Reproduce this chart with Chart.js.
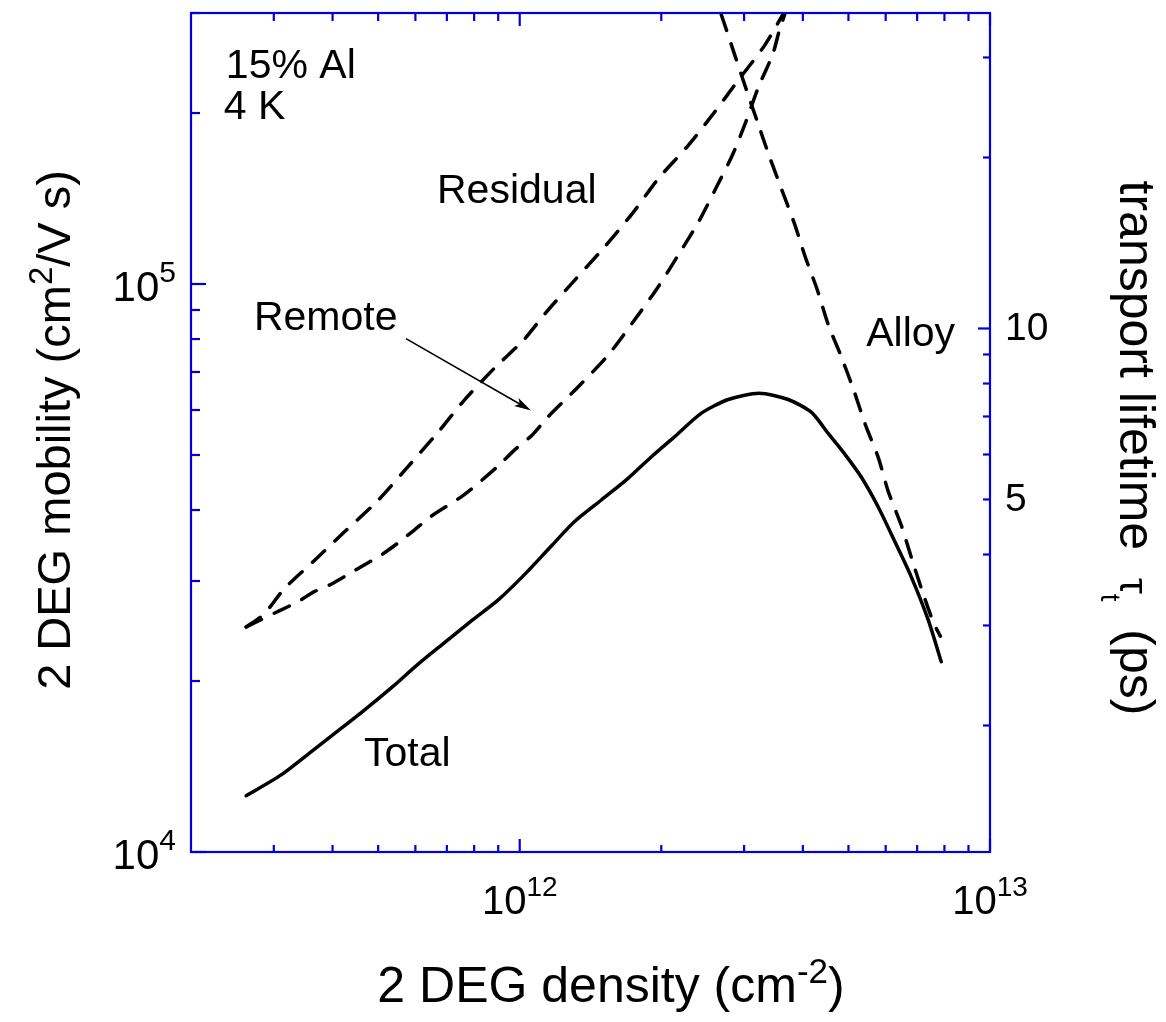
<!DOCTYPE html>
<html>
<head>
<meta charset="utf-8">
<script src="https://cdn.jsdelivr.net/npm/chart.js@4.4.0/dist/chart.umd.min.js"></script>
<style>
  html, body { margin: 0; padding: 0; background: #fff; }
</style>
</head>
<body>
<canvas id="mobilityChart" width="1166" height="1022"></canvas>
<script>
// 2DEG density in units of 1e12 cm^-2, mobility in cm^2/V s
const totalDensity = [0.262, 0.311, 0.360, 0.417, 0.466, 0.540, 0.608, 0.690, 0.788, 0.899, 1.021, 1.166, 1.305, 1.489, 1.700,
  1.903, 2.130, 2.431, 2.775, 3.229, 3.723, 4.168, 4.529, 4.898, 5.324, 5.785, 6.256, 6.801, 7.392, 7.877];
const totalMobility = [12560, 13670, 15010, 16500, 17740, 19630, 21420, 23330, 25500, 27760, 30720, 34540, 38110, 41620, 45490,
  49590, 53760, 59180, 62610, 64220, 62610, 59480, 54570, 50330, 45730, 40500, 35390, 30510, 25600, 21630];

const residualDensity = [0.262, 0.286, 0.315, 0.365, 0.423, 0.500, 0.567, 0.670, 0.761, 0.882, 1.021, 1.138, 1.305, 1.512,
  1.742, 1.969, 2.278, 2.591, 2.928, 3.310, 3.628];
const residualMobility = [24900, 26230, 29010, 32540, 36550, 41620, 46790, 54800, 62350, 71000, 79800, 89160, 101300, 116000,
  133600, 153100, 175100, 200300, 229500, 262300, 298200];

const remoteDensity = [0.262, 0.308, 0.337, 0.365, 0.397, 0.466, 0.507, 0.550, 0.596, 0.648, 0.761, 0.898, 0.973, 1.066,
  1.147, 1.329, 1.539, 1.740, 1.966, 2.183, 2.407, 2.616, 2.840, 3.030, 3.214, 3.453, 3.562, 3.668];
const remoteMobility = [24900, 26580, 27560, 28710, 29610, 31980, 33310, 34960, 36850, 38990, 42530, 47740, 50940, 54350,
  58290, 65800, 74820, 85610, 98630, 113100, 129200, 147700, 169400, 193600, 221600, 254000, 278800, 300000];

const alloyDensity = [2.682, 2.748, 2.871, 3.030, 3.198, 3.392, 3.615, 3.834, 4.046, 4.292, 4.529, 4.827, 5.144, 5.429,
  5.785, 6.075, 6.477, 6.801, 7.178, 7.576, 7.840];
const alloyMobility = [298200, 281000, 251900, 220400, 193600, 168100, 145900, 128100, 111700, 97720, 84820, 74520, 64670,
  56600, 49520, 43150, 37600, 33040, 28780, 25390, 23990];

// axis ranges and ticks
const densityRange = [2e11, 1e13];
const mobilityRange = [1e4, 3e5];
const mobilityPerPs = 8350; // mu = e*tau/m*, cm^2/V s per ps
const densityMajor = [1e12, 1e13];
const densityMinor = [3e11, 4e11, 5e11, 6e11, 7e11, 8e11, 9e11, 2e12, 3e12, 4e12, 5e12, 6e12, 7e12, 8e12, 9e12];
const mobilityMajor = [1e4, 1e5];
const mobilityMinor = [2e4, 3e4, 4e4, 5e4, 6e4, 7e4, 8e4, 9e4, 2e5, 3e5];
const lifetimeTicks = [2, 3, 4, 5, 6, 7, 8, 9, 10, 20, 30];
const lifetimeMajor = [10];
const lifetimeLabels = [5, 10];

// text notes placed in data coordinates
const notes = [
  { text: '15% Al', x: 0.2372e12, y: 230500 },
  { text: '4 K', x: 0.2349e12, y: 195200 },
  { text: 'Residual', x: 0.667e12, y: 139000 },
  { text: 'Remote', x: 0.2721e12, y: 83110 },
  { text: 'Alloy', x: 5.456e12, y: 77930 },
  { text: 'Total', x: 0.4664e12, y: 14180 }
];
const arrowFrom = { x: 0.573e12, y: 80140 };
const arrowTo = { x: 1.057e12, y: 59890 };

const axisBlue = '#0000dd';
const family = '"Liberation Sans", Arial, Helvetica, sans-serif';
const font = px => px + 'px ' + family;

const points = (d, m) => d.map((v, i) => ({ x: v * 1e12, y: m[i] }));

function drawRuns(ctx, runs, x, y, align) {
  let w = 0;
  runs.forEach(r => { ctx.font = r.font; r.w = ctx.measureText(r.text).width; w += r.w; });
  let cx = align === 'center' ? x - w / 2 : (align === 'right' ? x - w : x);
  ctx.textAlign = 'left';
  ctx.textBaseline = 'alphabetic';
  runs.forEach(r => { ctx.font = r.font; ctx.fillText(r.text, cx, y + (r.dy || 0)); cx += r.w; });
}

const frame = {
  id: 'frame',
  afterDatasetsDraw(chart) {
    const { ctx, chartArea: a } = chart;
    const { x, y, y2 } = chart.scales;
    ctx.save();
    ctx.strokeStyle = axisBlue;
    ctx.lineWidth = 2.2;
    ctx.strokeRect(a.left, a.top, a.right - a.left, a.bottom - a.top);

    const line = (x1, y1, x2, y2b) => { ctx.beginPath(); ctx.moveTo(x1, y1); ctx.lineTo(x2, y2b); ctx.stroke(); };
    densityMinor.forEach(v => {
      const px = x.getPixelForValue(v);
      line(px, a.bottom, px, a.bottom - 7);
      line(px, a.top, px, a.top + 8);
    });
    densityMajor.forEach(v => {
      const px = x.getPixelForValue(v);
      line(px, a.bottom, px, a.bottom - 13);
      line(px, a.top, px, a.top + 13);
    });
    mobilityMinor.forEach(v => { const py = y.getPixelForValue(v); line(a.left, py, a.left + 9, py); });
    mobilityMajor.forEach(v => { const py = y.getPixelForValue(v); line(a.left, py, a.left + 15, py); });
    lifetimeTicks.forEach(v => {
      const py = y2.getPixelForValue(v);
      const len = lifetimeMajor.includes(v) ? 12 : 7;
      line(a.right, py, a.right - len, py);
    });

    ctx.fillStyle = '#000';
    // tick labels
    densityMajor.forEach(v => {
      const px = x.getPixelForValue(v);
      drawRuns(ctx, [{ text: '10', font: font(40) }, { text: String(Math.round(Math.log10(v))), font: font(28), dy: -18 }], px, 914, 'center');
    });
    mobilityMajor.forEach(v => {
      const py = y.getPixelForValue(v);
      drawRuns(ctx, [{ text: '10', font: font(42) }, { text: String(Math.round(Math.log10(v))), font: font(30), dy: -19 }], a.left - 15, py + 17, 'right');
    });
    ctx.font = font(39);
    ctx.textAlign = 'left';
    ctx.textBaseline = 'middle';
    lifetimeLabels.forEach(v => ctx.fillText(String(v), a.right + 15, y2.getPixelForValue(v) + 1));

    // axis titles
    drawRuns(ctx, [
      { text: '2 DEG density (cm', font: font(50) },
      { text: '-2', font: font(35), dy: -19 },
      { text: ')', font: font(50) }
    ], 611, 1002, 'center');

    ctx.save();
    ctx.translate(70, 430);
    ctx.rotate(-Math.PI / 2);
    drawRuns(ctx, [
      { text: '2 DEG mobility (cm', font: font(47) },
      { text: '2', font: font(33), dy: -18 },
      { text: '/V s)', font: font(47) }
    ], 0, 0, 'center');
    ctx.restore();

    ctx.save();
    ctx.translate(1120, 448);
    ctx.rotate(Math.PI / 2);
    drawRuns(ctx, [
      { text: 'transport lifetime  ', font: font(50) },
      { text: '\u03c4', font: font(40) },
      { text: 't', font: font(28), dy: 19 },
      { text: '  (ps)', font: font(50) }
    ], 0, 0, 'center');
    ctx.restore();

    // curve notes
    ctx.font = font(41);
    ctx.textAlign = 'left';
    ctx.textBaseline = 'alphabetic';
    notes.forEach(n => ctx.fillText(n.text, x.getPixelForValue(n.x), y.getPixelForValue(n.y)));

    // arrow
    const x1 = x.getPixelForValue(arrowFrom.x), y1 = y.getPixelForValue(arrowFrom.y);
    const x2 = x.getPixelForValue(arrowTo.x), y2p = y.getPixelForValue(arrowTo.y);
    const ang = Math.atan2(y2p - y1, x2 - x1);
    ctx.strokeStyle = '#000';
    ctx.lineWidth = 1.6;
    line(x1, y1, x2 - 10 * Math.cos(ang), y2p - 10 * Math.sin(ang));
    ctx.beginPath();
    ctx.moveTo(x2, y2p);
    ctx.lineTo(x2 - 17 * Math.cos(ang) + 4.5 * Math.sin(ang), y2p - 17 * Math.sin(ang) - 4.5 * Math.cos(ang));
    ctx.lineTo(x2 - 13 * Math.cos(ang), y2p - 13 * Math.sin(ang));
    ctx.lineTo(x2 - 17 * Math.cos(ang) - 4.5 * Math.sin(ang), y2p - 17 * Math.sin(ang) + 4.5 * Math.cos(ang));
    ctx.closePath();
    ctx.fill();
    ctx.restore();
  }
};

const curveStyle = {
  borderColor: '#000',
  borderWidth: 3.5,
  pointRadius: 0,
  tension: 0.25,
  borderCapStyle: 'round',
  borderJoinStyle: 'round',
  fill: false
};
const dashed = [17, 14];

new Chart(document.getElementById('mobilityChart'), {
  type: 'line',
  data: {
    datasets: [
      { ...curveStyle, label: 'Total', data: points(totalDensity, totalMobility) },
      { ...curveStyle, label: 'Residual', data: points(residualDensity, residualMobility), borderDash: dashed },
      { ...curveStyle, label: 'Remote', data: points(remoteDensity, remoteMobility), borderDash: dashed },
      { ...curveStyle, label: 'Alloy', data: points(alloyDensity, alloyMobility), borderDash: dashed }
    ]
  },
  options: {
    responsive: false,
    animation: false,
    layout: { padding: { left: 191, right: 176, top: 13, bottom: 170 } },
    plugins: { legend: { display: false }, tooltip: { enabled: false } },
    scales: {
      x: { type: 'logarithmic', min: densityRange[0], max: densityRange[1], bounds: 'data', display: false },
      y: { type: 'logarithmic', min: mobilityRange[0], max: mobilityRange[1], bounds: 'data', display: false },
      y2: {
        type: 'logarithmic', position: 'right', bounds: 'data', display: false,
        min: mobilityRange[0] / mobilityPerPs, max: mobilityRange[1] / mobilityPerPs
      }
    }
  },
  plugins: [frame]
});
</script>
</body>
</html>
